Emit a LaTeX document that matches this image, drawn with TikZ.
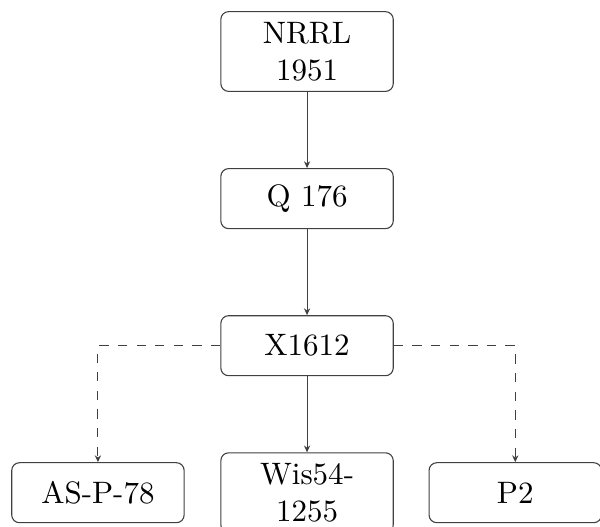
\documentclass[tikz,border=0pt]{standalone}
\usepackage{tikz}
\usetikzlibrary{arrows.meta,positioning}

\begin{document}
\begin{tikzpicture}[
        >={Stealth[length=2.2pt,width=2pt]},
        line width=0.35pt,draw=black!75,
        strain/.style = {draw,rounded corners=2.5pt,text width=1.72cm,align=center,
                         minimum height=0.68cm,inner sep=3.33pt}
        ]

        %Rahmen
        \useasboundingbox (-3.48,0.584) rectangle (3.32,-5.38);

        %Stammbaum
        \node[strain] (nrrl) at (0.0, 0.0) {NRRL 1951};
        \node[strain] (q) at (0.0,-1.667) {Q 176};
        \node[strain] (x) at (0.0,-3.334) {X1612};

        %Nachkommen
        \node[strain] (asp) at (-2.37,-5.0) {AS-P-78};
        \node[strain] (wis) at ( 0.0,-5.0) {Wis54-1255};
        \node[strain] (p) at ( 2.36,-5.0) {P2};

        %Verbindungen
        \draw[->] (nrrl) -- (q);
        \draw[->] (q) -- (x);
        \draw[->] (x) -- (wis);
        \draw[->,dashed] (x.west) -| (asp.north);
        \draw[->,dashed] (x.east) -| (p.north);

\end{tikzpicture}
\end{document}
